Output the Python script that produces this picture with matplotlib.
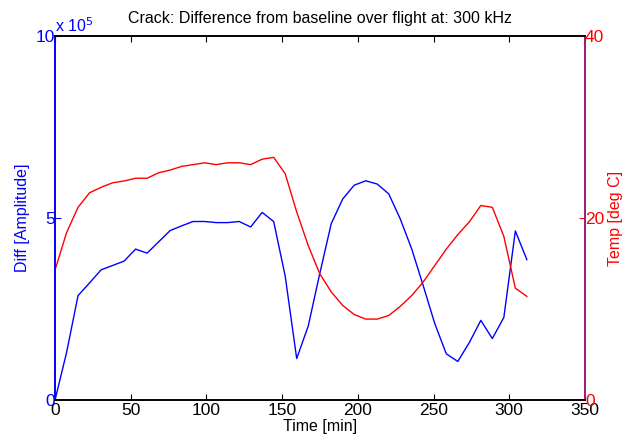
import matplotlib
matplotlib.use("Agg")
import matplotlib.pyplot as plt
from matplotlib.ticker import FuncFormatter

plt.rcParams['font.family'] = ['Liberation Sans', 'DejaVu Sans']

# time samples [min]
time_min = [0, 7.6, 15.2, 22.8, 30.4, 38, 45.6, 53.2, 60.8, 68.4, 76, 83.6, 91.2, 98.8,
            106.4, 114, 121.6, 129.2, 136.8, 144.4, 152, 159.6, 167.2, 174.8, 182.4, 190,
            197.6, 205.2, 212.8, 220.4, 228, 235.6, 243.2, 250.8, 258.4, 266, 273.6, 281.2,
            288.8, 296.4, 304, 311.6]

# difference amplitude, units of 1e5
diff_e5 = [0, 1.3, 2.87, 3.22, 3.58, 3.70, 3.82, 4.15, 4.04, 4.35, 4.66, 4.79, 4.91, 4.91,
           4.88, 4.88, 4.91, 4.76, 5.16, 4.91, 3.41, 1.14, 2.03, 3.47, 4.85, 5.53,
           5.91, 6.03, 5.94, 5.67, 4.98, 4.15, 3.14, 2.10, 1.27, 1.06, 1.58, 2.19,
           1.69, 2.27, 4.65, 3.86]

# temperature [deg C]
temp_c = [14.3, 18.4, 21.2, 22.8, 23.4, 23.9, 24.1, 24.4, 24.4, 25.0, 25.3, 25.7, 25.9, 26.1,
          25.9, 26.1, 26.1, 25.9, 26.5, 26.7, 24.9, 20.7, 17.0, 13.9, 11.9, 10.4,
          9.4, 8.9, 8.9, 9.3, 10.3, 11.5, 13.0, 14.8, 16.6, 18.2, 19.6, 21.4,
          21.2, 18.0, 12.3, 11.4]

diff = [v * 1e5 for v in diff_e5]

fig = plt.figure(figsize=(6.39, 4.38), dpi=100)
ax = fig.add_axes([0.0861, 0.0868, 0.8294, 0.8299])
ax2 = ax.twinx()

ax.plot(time_min, diff, color='#0000ff', lw=1.0)
ax2.plot(time_min, temp_c, color='#ff0000', lw=1.0)

ax.set_xlim(0, 350)
ax.set_ylim(0, 1e6)
ax2.set_ylim(0, 40)
ax.set_xticks(range(0, 351, 50))
ax.set_yticks([0, 5e5, 1e6])
ax2.set_yticks([0, 20, 40])
ax.yaxis.set_major_formatter(FuncFormatter(lambda v, p: '%g' % (v / 1e5)))

fs = 11.5
tfs = 12.5
ax.tick_params(axis='x', direction='in', top=True, length=4, labelsize=tfs, pad=2, colors='black')
ax.tick_params(axis='y', direction='in', length=4, labelsize=tfs, pad=0, colors='#0000ff')
ax2.tick_params(axis='y', direction='in', length=4, labelsize=tfs, pad=0, colors='#ff0000')

for a in (ax, ax2):
    for s in a.spines.values():
        s.set_linewidth(1.2)
ax.spines['left'].set_color('#0000ff')
ax2.spines['left'].set_color('#0000ff')
ax2.spines['right'].set_color('#9a1a7a')
ax.spines['right'].set_color('#9a1a7a')

ax.text(0.0, 1.005, r'x 10$^5$', transform=ax.transAxes, color='#0000ff',
        fontsize=fs, ha='left', va='bottom')

ax.set_xlabel('Time [min]', fontsize=fs, labelpad=1)
ax.set_ylabel('Diff [Amplitude]', fontsize=fs, color='#0000ff', labelpad=4)
ax2.set_ylabel('Temp [deg C]', fontsize=fs, color='#ff0000', labelpad=3)
ax.set_title('Crack: Difference from baseline over flight at: 300 kHz', fontsize=fs, pad=10)

fig.savefig('out.png', dpi=100)
